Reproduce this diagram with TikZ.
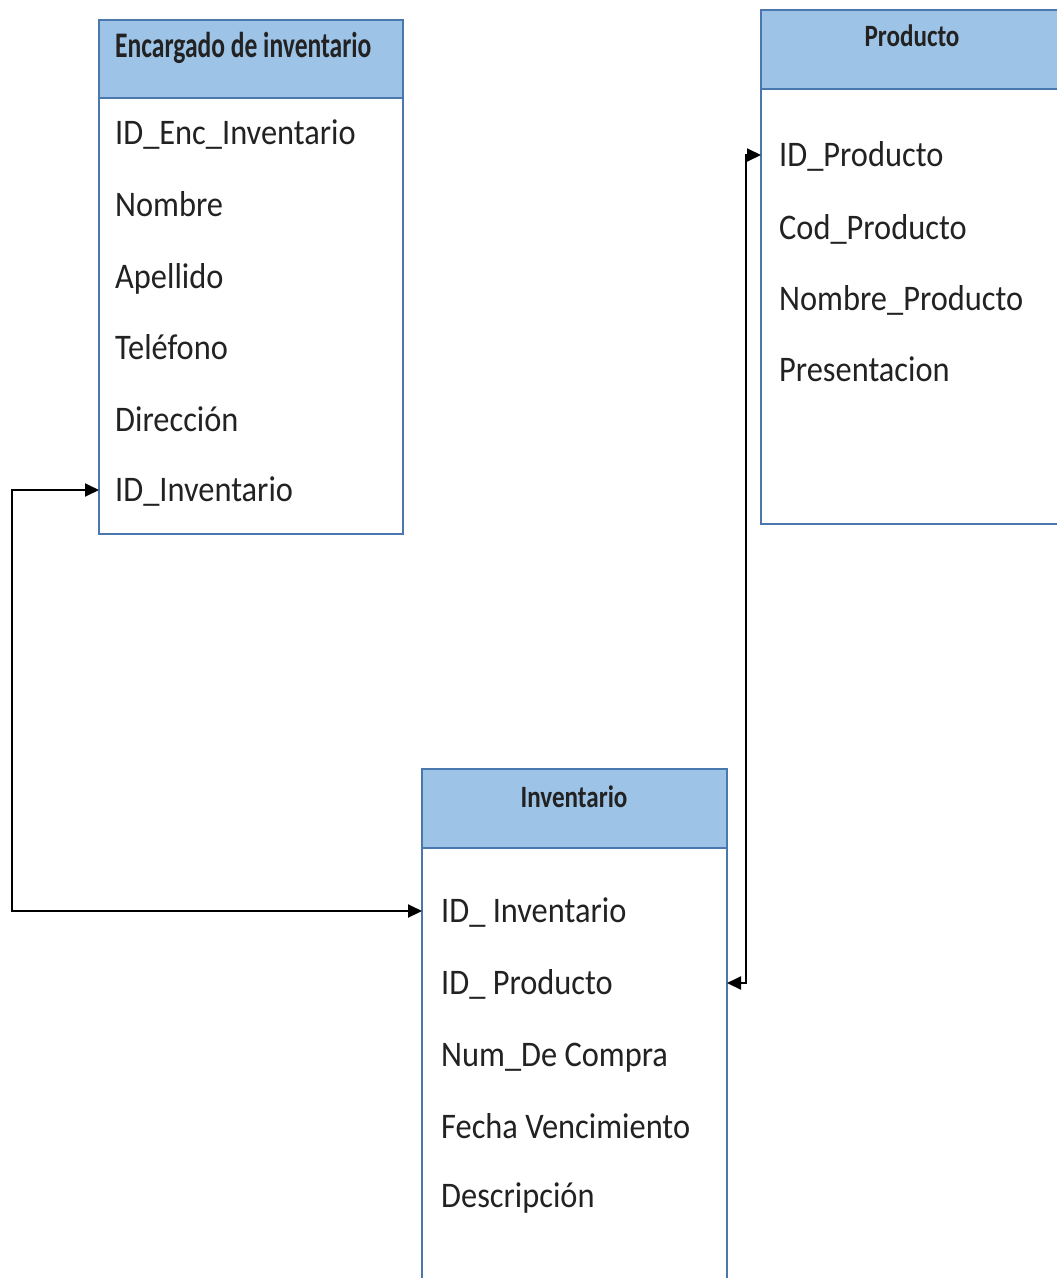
\documentclass[tikz,border=0pt]{standalone}
\usepackage{fontspec}
\usepackage{graphicx}
\setmainfont{Carlito}
\newfontfamily\itemfont[FakeStretch=0.9]{Carlito}
\usetikzlibrary{arrows.meta}
\definecolor{hdfill}{HTML}{9DC3E6}
\definecolor{bxline}{HTML}{4A78AE}
\definecolor{txt}{HTML}{222222}
\tikzset{
  hdbox/.style={draw=bxline, fill=hdfill, line width=2pt},
  bodybox/.style={draw=bxline, fill=white, line width=2pt},
  field/.style={anchor=west, inner sep=0pt, text height=23pt, text depth=0pt, text=txt,
    font=\itemfont\fontsize{36}{40}\selectfont},
  hdtext/.style={inner sep=0pt, text=txt},
  conn/.style={line width=2pt, draw=black, {Triangle[length=14pt,width=13pt]}-{Triangle[length=14pt,width=13pt]}}
}
\begin{document}
\begin{tikzpicture}[x=1pt,y=-1pt]
\useasboundingbox (0,0) rectangle (1057,1278);
\clip (0,0) rectangle (1057,1278);
% Encargado de inventario
\draw[bodybox] (99,98) rectangle (403,534);
\draw[hdbox] (99,20) rectangle (403,98);
\node[hdtext, anchor=base west] (enchd) at (115,57) {\scalebox{0.71}[1]{\bfseries\fontsize{36}{40}\selectfont Encargado de inventario}};
\coordinate (encW) at (99,300);
\node[field] (encF1) at (115,133) {ID\_Enc\_Inventario};
\node[field] (encF2) at (115,205) {Nombre};
\node[field] (encF3) at (115,277) {Apellido};
\node[field] (encF4) at (115,348) {Teléfono};
\node[field] (encF5) at (115,420) {Dirección};
\node[field] (encF6) at (115,490) {ID\_Inventario};
% Producto
\draw[bodybox] (761,89) rectangle (1070,524);
\draw[hdbox] (761,10) rectangle (1070,89);
\node[hdtext, anchor=base] (prodhd) at (912,46) {\scalebox{0.81}[1]{\bfseries\fontsize{31}{36}\selectfont Producto}};
\coordinate (prodW) at (761,300);
\node[field] (prodF1) at (779,155) {ID\_Producto};
\node[field] (prodF2) at (779,228) {Cod\_Producto};
\node[field] (prodF3) at (779,299) {Nombre\_Producto};
\node[field] (prodF4) at (779,370) {Presentacion};
% Inventario
\draw[bodybox] (422,848) rectangle (727,1300);
\draw[hdbox] (422,769) rectangle (727,848);
\node[hdtext, anchor=base] (invhd) at (574,807) {\scalebox{0.81}[1]{\bfseries\fontsize{31}{36}\selectfont Inventario}};
\coordinate (invW) at (422,1000);
\coordinate (invE) at (727,1000);
\node[field] (invF1) at (441,911) {ID\_ Inventario};
\node[field] (invF2) at (441,983) {ID\_ Producto};
\node[field] (invF3) at (441,1055) {Num\_De Compra};
\node[field] (invF4) at (441,1127) {Fecha Vencimiento};
\node[field] (invF5) at (441,1196) {Descripción};
% connectors
\coordinate (c1) at (12,700);
\coordinate (c2) at (746,500);
\draw[conn] (invW |- invF1) -| (c1) |- (encW |- encF6);
\draw[conn] (invE |- invF2) -| (c2) |- (prodW |- prodF1);
\end{tikzpicture}
\end{document}
